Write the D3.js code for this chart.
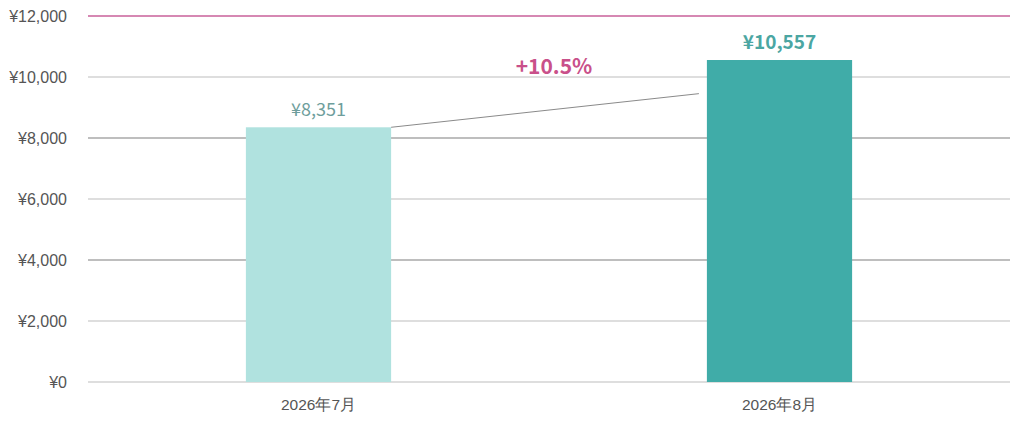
<!DOCTYPE html>
<html>
<head>
<meta charset="utf-8">
<script src="https://cdn.jsdelivr.net/npm/d3@7"></script>
<style>
  body { margin: 0; background: #fff; }
  svg { display: block; font-family: "Noto Sans CJK JP", "Noto Sans", sans-serif; }
</style>
</head>
<body>
<svg id="chart" width="1024" height="429"></svg>
<script>
// data
const months = ['2026年7月', '2026年8月'];
const sales = [8351, 10557];
const yTicks = [0, 2000, 4000, 6000, 8000, 10000, 12000];
const barColors = ['#b0e2df', '#40aca8'];
const changeLabel = '+10.5%';

const svg = d3.select('#chart');
const margin = { top: 16, right: 14, bottom: 47, left: 88 };
const width = 1024 - margin.left - margin.right;
const height = 429 - margin.top - margin.bottom;

const g = svg.append('g').attr('transform', `translate(${margin.left},${margin.top})`);

const x = d3.scaleBand().domain(months).range([0, width]).paddingInner(0.685).paddingOuter(0.3425);
const y = d3.scaleLinear().domain([0, 12000]).range([height, 0]);
const yen = v => '¥' + d3.format(',')(v);

// gridlines: top one pink, 4000/8000 darker, rest light
const gridColor = d => d === 12000 ? '#c8609a' : (d === 4000 || d === 8000) ? '#a8a8a8' : '#dedede';
g.append('g').selectAll('line')
  .data(yTicks)
  .join('line')
  .attr('x1', 0).attr('x2', width)
  .attr('y1', d => y(d)).attr('y2', d => y(d))
  .attr('stroke', gridColor)
  .attr('stroke-width', d => (d === 4000 || d === 8000 || d === 12000) ? 1.3 : 2);

// y axis labels
const yAxis = d3.axisLeft(y).tickValues(yTicks).tickFormat(yen).tickSize(0).tickPadding(21);
g.append('g').call(yAxis)
  .call(a => a.select('.domain').remove())
  .selectAll('text')
  .attr('font-size', 16)
  .attr('fill', '#555');

// x axis labels
const xAxis = d3.axisBottom(x).tickSize(0).tickPadding(17);
g.append('g').attr('transform', `translate(0,${height})`).call(xAxis)
  .call(a => a.select('.domain').remove())
  .selectAll('text')
  .attr('font-size', 15.5)
  .attr('fill', '#555');

// bars
g.append('g').selectAll('rect')
  .data(sales)
  .join('rect')
  .attr('x', (d, i) => x(months[i]))
  .attr('y', d => y(d))
  .attr('width', x.bandwidth())
  .attr('height', d => height - y(d))
  .attr('fill', (d, i) => barColors[i]);

// connector line
const x1 = x(months[0]) + x.bandwidth();
const x2 = x(months[1]) - 8;
g.append('line')
  .attr('x1', x1).attr('y1', y(sales[0]))
  .attr('x2', x2).attr('y2', y((sales[0] + sales[1]) / 2))
  .attr('stroke', '#8a8a8a')
  .attr('stroke-width', 1);

// value labels
g.append('g').selectAll('text')
  .data(sales)
  .join('text')
  .attr('x', (d, i) => x(months[i]) + x.bandwidth() / 2)
  .attr('y', d => y(d) - 11)
  .attr('text-anchor', 'middle')
  .attr('font-size', (d, i) => i === 1 ? 19 : 18)
  .attr('font-weight', (d, i) => i === 1 ? 'bold' : 'normal')
  .attr('fill', (d, i) => i === 1 ? '#4ba6a2' : '#6e9e9c')
  .text(yen);

// change label
g.append('text')
  .attr('x', (x1 + x(months[1])) / 2 + 5)
  .attr('y', y(10000) - 3)
  .attr('text-anchor', 'middle')
  .attr('font-size', 21)
  .attr('font-weight', 'bold')
  .attr('fill', '#c9508a')
  .text(changeLabel);
</script>
</body>
</html>
